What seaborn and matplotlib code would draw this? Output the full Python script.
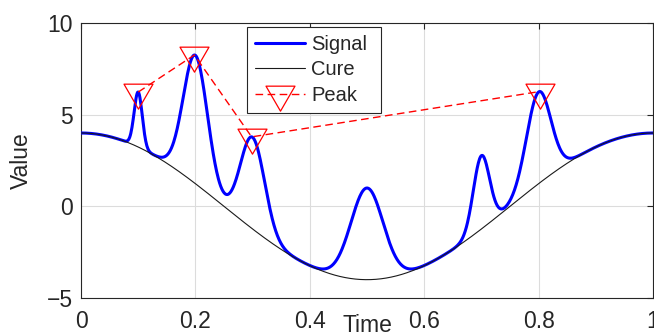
import numpy as np
import pandas as pd
import seaborn as sns
import matplotlib
matplotlib.use("Agg")
import matplotlib.pyplot as plt
from matplotlib.path import Path

# ---- data ----
peak_positions = [0.1, 0.2, 0.3, 0.5, 0.7, 0.8]
peak_heights = [3, 7, 5, 5, 4, 5]
peak_widths = [0.01, 0.03, 0.03, 0.04, 0.02, 0.03]
cure_amplitude = 4.0
min_peak_height = 3.0
n_samples = 1000
x_ticks = [0, 0.2, 0.4, 0.6, 0.8, 1]
x_tick_labels = ["0", "0.2", "0.4", "0.6", "0.8", "1"]
y_ticks = [-5, 0, 5, 10]
y_tick_labels = ["\u22125", "0", "5", "10"]

t = np.linspace(0, 1, n_samples)
cure = cure_amplitude * np.cos(2 * np.pi * t)
peaks_sum = np.zeros_like(t)
for p, h, w in zip(peak_positions, peak_heights, peak_widths):
    peaks_sum += h * np.exp(-((t - p) / w) ** 2)
signal = cure + peaks_sum

# local maxima above the threshold (like findpeaks MinPeakHeight)
is_max = np.r_[False, (signal[1:-1] > signal[:-2]) & (signal[1:-1] >= signal[2:]), False]
idx = np.where(is_max & (signal > min_peak_height))[0]
df = pd.DataFrame({"Time": t, "Signal": signal, "Cure": cure})
pk = pd.DataFrame({"Time": t[idx], "Value": signal[idx]})

sns.set_theme(style="white")
plt.rcParams["font.family"] = ["Liberation Sans", "DejaVu Sans"]
plt.rcParams["axes.unicode_minus"] = True

# downward triangle centred on its centroid (MATLAB-like, slightly flat)
tri = Path([(-1.0, 0.575), (1.0, 0.575), (0.0, -1.15), (-1.0, 0.575)],
           [Path.MOVETO, Path.LINETO, Path.LINETO, Path.CLOSEPOLY])

fig = plt.figure(figsize=(6.54, 3.36), dpi=100)
ax = fig.add_axes([81 / 654, 38 / 336, 572 / 654, 275 / 336])

sns.lineplot(data=df, x="Time", y="Signal", ax=ax, color="#0000ff", linewidth=2.2,
             label="Signal", zorder=3)
sns.lineplot(data=df, x="Time", y="Cure", ax=ax, color="#1a1a1a", linewidth=0.8,
             label="Cure", zorder=4)
sns.lineplot(data=pk, x="Time", y="Value", ax=ax, color="#ff0000", linewidth=1.0,
             linestyle=(0, (5.5, 3.2)), marker=tri, markersize=24,
             markerfacecolor="none", markeredgecolor="#ff0000", markeredgewidth=0.9,
             label="Peak", zorder=5)

ax.set_xlim(0, 1)
ax.set_ylim(-5, 10)
ax.set_xticks(x_ticks)
ax.set_xticklabels(x_tick_labels)
ax.set_yticks(y_ticks)
ax.set_yticklabels(y_tick_labels)
ax.grid(True, color="#dcdcdc", linewidth=0.8)
ax.set_axisbelow(True)
for s in ax.spines.values():
    s.set_visible(True)
    s.set_color("#262626")
    s.set_linewidth(0.8)
ax.tick_params(direction="in", length=4, width=0.8, colors="#262626",
               labelsize=16.5, top=True, right=True)
ax.tick_params(axis="x", pad=9)
ax.tick_params(axis="y", pad=6)
ax.set_xlabel("Time", fontsize=16.5, color="#262626")
ax.set_ylabel("Value", fontsize=16.5, color="#262626")
ax.xaxis.set_label_coords(0.5, -0.058)
ax.yaxis.set_label_coords(-0.084, 0.5)

leg = ax.legend(loc="upper left", bbox_to_anchor=(0.290, 0.0, 0.2343, 0.9855),
                mode="expand", borderaxespad=0,
                fontsize=14.5, frameon=True, fancybox=False, framealpha=1,
                edgecolor="#262626", handlelength=2.5, handletextpad=0.28,
                labelspacing=0.32, borderpad=0.4)
leg.get_frame().set_linewidth(0.8)

fig.savefig("out.png", dpi=100)
